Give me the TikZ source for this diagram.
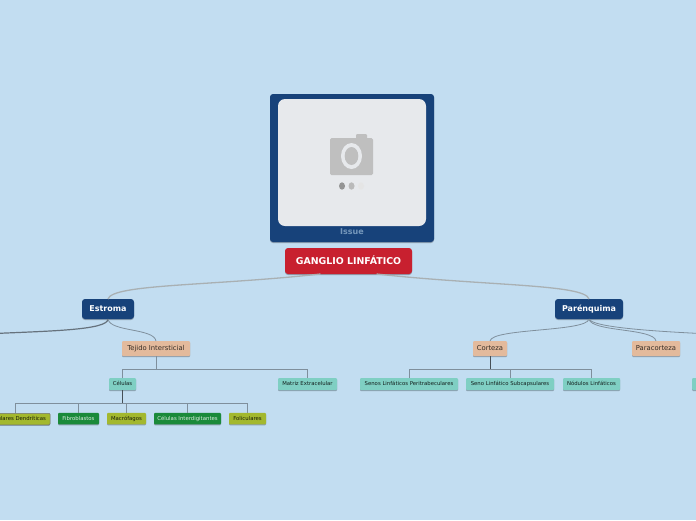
\documentclass[tikz,border=0pt]{standalone}
\usepackage{fontspec}
\setmainfont{DejaVu Sans}
\definecolor{bg}{HTML}{C2DDF1}
\definecolor{navy}{HTML}{17427A}
\definecolor{rootred}{HTML}{C8202F}
\definecolor{peach}{HTML}{E3BA9C}
\definecolor{teal}{HTML}{7FCFC3}
\definecolor{leafgreen}{HTML}{1A8A3A}
\definecolor{olive}{HTML}{A3B82E}
\definecolor{shade}{HTML}{8C9FB0}
\definecolor{link}{HTML}{7F8F9C}
\definecolor{rootlink}{HTML}{A9B0B3}
\definecolor{photo}{HTML}{E7E9EC}
\tikzset{
  x=1pt,y=-1pt,
  box/.style={rectangle,inner sep=0pt,outer sep=0pt,
    preaction={fill=shade,draw=none,transform canvas={yshift=-1pt}}},
  mainbox/.style={box,fill=navy,text=white,rounded corners=3pt,font=\bfseries\fontsize{8}{9}\selectfont,minimum height=20pt,text height=6pt,text depth=1.5pt},
  rootbox/.style={box,fill=rootred,text=white,rounded corners=3pt,font=\bfseries\fontsize{9.4}{10}\selectfont,minimum height=26pt,minimum width=127pt,text height=7pt,text depth=.5pt},
  peachbox/.style={box,fill=peach,text=black!60!peach!60!black,rounded corners=1pt,font=\fontsize{6.8}{8}\selectfont,minimum height=15pt,text height=5pt,text depth=1.5pt},
  smalltext/.style={font=\fontsize{5.35}{6}\selectfont,text height=4pt,text depth=1pt},
  tealbox/.style={box,smalltext,fill=teal,text=black!85!teal,rounded corners=1pt,minimum height=12pt},
  greenbox/.style={box,smalltext,fill=leafgreen,text=white!85!leafgreen,rounded corners=1pt,minimum height=11.5pt},
  olivebox/.style={box,smalltext,fill=olive,text=black!85!olive,rounded corners=1pt,minimum height=11.5pt},
  rootedge/.style={draw=rootlink,line width=1.3pt},
  mainedge/.style={draw=link,line width=.8pt},
  darkedge/.style={draw=link!80!black,line width=1.2pt},
  tree/.style={draw=link,line width=.8pt},
  treedark/.style={draw=link!55!black,line width=1pt},
}
\begin{document}
\begin{tikzpicture}
\useasboundingbox (0,0) rectangle (696,520);
\clip (0,0) rectangle (696,520);
\fill[bg] (0,0) rectangle (696,520);
% image card
\node[box,fill=navy,rounded corners=3pt,minimum width=164pt,minimum height=148pt] (card) at (352,168) {};
\node[fill=photo,rectangle,rounded corners=7pt,minimum width=148pt,minimum height=127pt,inner sep=0pt] (photo) at (352,162.5) {};
\node[text=navy!45!bg,font=\bfseries\fontsize{8}{9}\selectfont,inner sep=0pt] (issue) at (352,232) {Issue};
% camera icon
\fill[black!25,rounded corners=1pt] (356,134) rectangle (367,140);
\fill[black!25,rounded corners=1.5pt] (330,138) rectangle (373,175);
\fill[photo] (351.5,156) ellipse [x radius=10.5,y radius=13];
\fill[black!25] (351.5,156) ellipse [x radius=6.8,y radius=9];
\fill[black!42] (342,186) ellipse [x radius=3,y radius=3.7];
\fill[black!27] (351.5,186) ellipse [x radius=3,y radius=3.7];
\fill[black!10] (361,186) ellipse [x radius=3,y radius=3.7];
% nodes
\node[rootbox] (root) at (348.5,261) {GANGLIO LINFÁTICO};
\node[mainbox,minimum width=52pt] (estroma) at (108,309) {Estroma};
\node[mainbox,minimum width=68pt] (parenq) at (589,309) {Parénquima};
\node[peachbox,minimum width=68pt] (tejido) at (156,348.5) {Tejido Intersticial};
\node[peachbox,minimum width=34pt] (corteza) at (490,348.5) {Corteza};
\node[peachbox,minimum width=48pt] (paracorteza) at (656,348.5) {Paracorteza};
\node[tealbox,minimum width=27pt] (celulas) at (122.5,384) {Células};
\node[tealbox,minimum width=59pt] (matriz) at (307.5,384) {Matriz Extracelular};
\node[tealbox,minimum width=98pt] (senos) at (409,384) {Senos Linfáticos Peritrabeculares};
\node[tealbox,minimum width=88pt] (seno) at (510,384) {Seno Linfático Subcapsulares};
\node[tealbox,minimum width=57pt] (nodulos) at (591.5,384) {Nódulos Linfáticos};
\node[tealbox,minimum width=20pt,anchor=west] (rightbox) at (692,384) {};
\node[olivebox,draw=black!55,line width=.5pt,anchor=east] (dendri) at (50,419) {\hspace*{3pt}Células Foliculares Dendríticas\hspace*{4pt}};
\node[greenbox,minimum width=41pt] (fibro) at (78.5,418.5) {Fibroblastos};
\node[olivebox,minimum width=39pt] (macro) at (126.5,418.5) {Macrófagos};
\node[greenbox,minimum width=67pt] (interdig) at (187.5,418.5) {Células Interdigitantes};
\node[olivebox,minimum width=37pt] (folic) at (247.5,418.5) {Foliculares};
% free ends
\coordinate (offleft) at (-5,333.5);
\coordinate (offright) at (700,333.5);
\coordinate (dtop) at (15,413);
% connectors
\draw[rootedge] (root.south)+(-28,0) .. controls +(-110,12) and (112,284) .. (estroma.north);
\draw[rootedge] (root.south)+(28,0) .. controls +(110,12) and (585,284) .. (parenq.north);
\draw[darkedge] (estroma.south) .. controls (108,330) and (50,331) .. (offleft);
\draw[mainedge] (estroma.south) .. controls (110,332) and (154,328) .. (tejido.north);
\draw[mainedge] (parenq.south) .. controls (587,332) and (492,328) .. (corteza.north);
\draw[mainedge] (parenq.south) .. controls (591,332) and (654,328) .. (paracorteza.north);
\draw[mainedge] (parenq.south) .. controls (592,327) and (650,331) .. (offright);
\coordinate (tj) at (156,369.5);
\draw[tree] (tejido.south) -- (tj);
\draw[tree] (celulas.north) |- (tj) -| (matriz.north);
\coordinate (cl) at (122.5,403.5);
\draw[treedark] (celulas.south) -- (cl);
\draw[tree] (dtop) |- (cl) -| (interdig.north);
\draw[tree] (cl) -| (folic.north);
\draw[tree] (cl) -| (fibro.north);
\draw[tree] (cl) -| (macro.north);
\coordinate (ct) at (490,369.5);
\draw[treedark] (corteza.south) -- (ct);
\draw[tree] (senos.north) |- (ct) -| (seno.north);
\draw[tree] (ct) -| (nodulos.north);
\end{tikzpicture}
\end{document}
